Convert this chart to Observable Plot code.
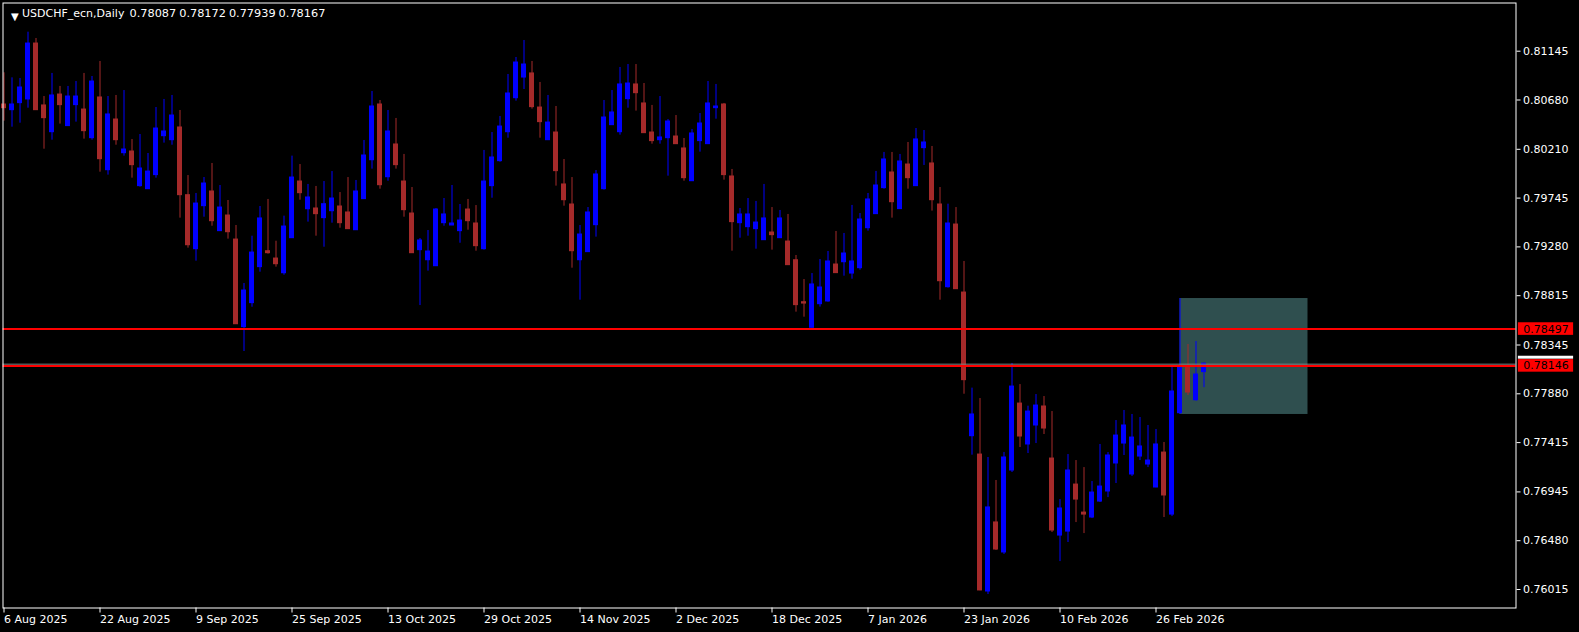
<!DOCTYPE html>
<html><head><meta charset="utf-8">
<script src="https://cdn.jsdelivr.net/npm/d3@7"></script>
<script src="https://cdn.jsdelivr.net/npm/@observablehq/plot@0.6"></script>
<style>
html,body{margin:0;padding:0;background:#000;}
#chart{width:1579px;height:632px;overflow:hidden;}
</style></head><body><div id="chart"></div>
<script>
const symbol = "USDCHF_ecn,Daily";
const open = [
.80637,.80583,.80650,.80685,.81218,.80628,.80373,.80732,.80431,.80631,
.80589,.80316,.80704,.80011,.80494,.80173,.80189,.79859,.79830,.79964,
.80335,.80297,.80418,.79773,.79258,.79668,.79808,.79430,.79579,.79350,
.78515,.78744,.79087,.79239,.79169,.79029,.79363,.79903,.79639,.79646,
.79554,.79620,.79665,.79608,.79439,.79735,.80106,.80637,.79944,.80256,
.79903,.79598,.79249,.79153,.79096,.79506,.79484,.79430,.79636,.79503,
.79258,.79859,.80097,.80373,.80697,.80894,.80933,.80608,.80297,.80370,
.79875,.79684,.79153,.79230,.79487,.79830,.80440,.80373,.80688,.80828,
.80647,.80370,.80297,.80316,.80332,.80218,.79906,.80288,.80259,.80602,
.80637,.79951,.79506,.79468,.79449,.79344,.79417,.79363,.79331,.79153,
.78753,.78509,.78734,.78760,.79112,.79134,.79026,.79077,.79458,.79592,
.79840,.79989,.79640,.80065,.79859,.80221,.80075,.79684,.78896,.79493,
.78845,.77476,.77301,.75996,.76654,.76368,.77149,.77787,.77397,.77578,
.77759,.77263,.76529,.76567,.77015,.76748,.76701,.76853,.76949,.77216,
.77406,.77111,.77282,.77206,.76987,.77320,.76729,.77695,.78140,.77819,
.78087];
const high = [
.80939,.80891,.80885,.81326,.81266,.80713,.80933,.80809,.80809,.80856,
.80933,.80904,.81047,.80713,.80723,.80770,.80303,.80351,.80170,.80608,
.80685,.80723,.80580,.79960,.79789,.79941,.80075,.79865,.79722,.79484,
.78931,.79382,.79665,.79732,.79334,.79573,.80145,.80065,.79875,.79856,
.79903,.79998,.79798,.79941,.79913,.80294,.80761,.80675,.80580,.80504,
.80161,.79846,.79360,.79436,.79646,.79741,.79865,.79684,.79732,.79674,
.80199,.80370,.80523,.80923,.81085,.81247,.81047,.80847,.80723,.80618,
.80113,.79941,.79484,.79655,.80008,.80675,.80770,.80990,.81018,.81018,
.80837,.80628,.80713,.80494,.80532,.80313,.80399,.80551,.80856,.80828,
.80647,.80018,.79646,.79741,.79713,.79875,.79655,.79627,.79589,.79198,
.78969,.79026,.79160,.79236,.79427,.79408,.79675,.79598,.79789,.79999,
.80180,.80180,.80161,.80275,.80408,.80389,.80237,.79846,.79687,.79655,
.79141,.77934,.77835,.77273,.77054,.77321,.78169,.77968,.77762,.77873,
.77854,.77711,.76872,.77301,.77244,.77177,.77044,.77397,.77320,.77625,
.77721,.77683,.77654,.77578,.77540,.77416,.78130,.78788,.78350,.78378,
.78172];
const low = [
.80478,.80421,.80459,.80602,.80580,.80211,.80297,.80450,.80428,.80469,
.80307,.80297,.79992,.79964,.80249,.80145,.79935,.79849,.79828,.79935,
.80269,.80249,.79554,.79268,.79144,.79563,.79477,.79427,.79354,.78541,
.78283,.78705,.79039,.79211,.79087,.79010,.79360,.79725,.79516,.79382,
.79277,.79506,.79458,.79446,.79437,.79732,.80021,.79830,.79906,.80021,
.79563,.79218,.78721,.79049,.79094,.79477,.79482,.79315,.79439,.79239,
.79249,.79744,.80087,.80316,.80669,.80780,.80593,.80316,.80295,.79859,
.79668,.79077,.78772,.79227,.79373,.79821,.80438,.80345,.80602,.80574,
.80362,.80259,.80259,.79954,.80257,.79906,.79904,.80183,.80257,.80497,
.79916,.79239,.79363,.79382,.79258,.79342,.79249,.79361,.79104,.78658,
.78610,.78506,.78706,.78753,.79027,.79001,.78972,.79058,.79430,.79590,
.79830,.79554,.79637,.79830,.79856,.80056,.79621,.78772,.78887,.78875,
.77876,.77295,.76003,.75967,.76387,.76349,.77130,.77368,.77311,.77406,
.77492,.76558,.76281,.76463,.76653,.76548,.76691,.76844,.76891,.77025,
.77292,.77092,.77244,.77177,.76985,.76701,.76710,.77683,.77864,.77810,
.77939];
const close = [
.80602,.80637,.80799,.81218,.80583,.80507,.80723,.80631,.80713,.80713,
.80383,.80856,.80116,.80542,.80297,.80208,.80059,.80027,.79998,.80408,
.80380,.80532,.79773,.79296,.79693,.79884,.79525,.79655,.79420,.78543,
.78864,.79226,.79551,.79220,.79115,.79474,.79941,.79792,.79751,.79592,
.79687,.79741,.79506,.79449,.79808,.80151,.80618,.79868,.80380,.80059,
.79630,.79220,.79341,.79236,.79636,.79589,.79503,.79531,.79525,.79287,
.79903,.80132,.80427,.80742,.81037,.81018,.80612,.80469,.80465,.80002,
.79725,.79239,.79398,.79608,.79970,.80513,.80561,.80828,.80837,.80745,
.80364,.80288,.80323,.80475,.80259,.79935,.80361,.80456,.80647,.80618,
.79964,.79516,.79589,.79589,.79512,.79551,.79392,.79551,.79106,.78725,
.78740,.78922,.78893,.79141,.79030,.79217,.79141,.79541,.79732,.79865,
.80113,.79706,.80094,.79935,.80304,.80275,.79725,.78953,.79503,.78877,
.78010,.77683,.76006,.76797,.76396,.77273,.77949,.77473,.77711,.77768,
.77549,.76577,.76787,.77149,.76872,.76729,.76939,.76996,.77292,.77482,
.77578,.77463,.77378,.77244,.77397,.76911,.77902,.78140,.77892,.78064,
.78167];
const dateTickBars = [0,12,24,36,48,60,72,84,96,108,120,132,144];
const dateTickLabels = ["6 Aug 2025","22 Aug 2025","9 Sep 2025","25 Sep 2025","13 Oct 2025","29 Oct 2025","14 Nov 2025","2 Dec 2025","18 Dec 2025","7 Jan 2026","23 Jan 2026","10 Feb 2026","26 Feb 2026"];
const priceTicks = [0.81145,0.80680,0.80210,0.79745,0.79280,0.78815,0.78345,0.77880,0.77415,0.76945,0.76480,0.76015];
const levels = [0.78497, 0.78146];
const bid = 0.78167;
const zoneBars = [147, 163];
const zonePrices = [0.77683, 0.78788];

const fmt = d3.format(".5f");
const candles = open.map((o, i) => ({i, o, h: high[i], l: low[i], c: close[i]}));
const bulls = candles.filter(d => d.c >= d.o);
const bears = candles.filter(d => d.c < d.o);
const bullColor = "#0000FF", bearColor = "#A52A2A";
const hw = 0.3125;
const last = candles[candles.length - 1];
const ohlc = [last.o, last.h, last.l, last.c].map((v, k) => ({v, k}));
const labelOf = new Map(dateTickBars.map((b, k) => [b, dateTickLabels[k]]));
const lx1 = 189.3, lx2 = 196.2, ltx = 189.9;
const pxToBar = px => (px - 3.5) / 8;

const bodyMark = (data, fill) => Plot.rect(data, {
  x1: d => d.i - hw, x2: d => d.i + hw,
  y1: d => Math.min(d.o, d.c), y2: d => Math.max(d.o, d.c),
  fill, insetTop: -0.5, insetBottom: -0.5
});
const wickMark = (data, stroke) => Plot.ruleX(data, {x: "i", y1: "l", y2: "h", stroke, strokeWidth: 1});

const chart = Plot.plot({
  width: 1579, height: 632,
  marginLeft: 2.5, marginTop: 2.5, marginRight: 63.5, marginBottom: 24.5,
  style: {background: "#000", color: "#fff", fontFamily: "DejaVu Sans", fontSize: "11px"},
  x: {type: "linear", domain: [-0.125, 189]},
  y: {domain: [0.758387, 0.816043]},
  marks: [
    Plot.rect([0], {x1: zoneBars[0], x2: zoneBars[1], y1: zonePrices[0], y2: zonePrices[1], fill: "#2F4F4F"}),
    wickMark(bulls, bullColor), wickMark(bears, bearColor),
    bodyMark(bulls, bullColor), bodyMark(bears, bearColor),
    Plot.ruleY([bid], {stroke: "#808080", strokeWidth: 1, dy: 0.5}),
    Plot.ruleY(levels, {stroke: "#FF0000", strokeWidth: 2}),
    Plot.frame({stroke: "#fff"}),
    Plot.axisY({ticks: priceTicks, anchor: "right", tickSize: 4, tickPadding: 3, tickFormat: fmt, label: null}),
    Plot.axisX({ticks: dateTickBars, anchor: "bottom", tickSize: 5, tickPadding: 2, textAnchor: "start", tickFormat: d => labelOf.get(d), label: null}),
    Plot.rect([bid], {x1: lx1, x2: lx2, y1: d => d + 0.00043, y2: d => d + 0.00071, fill: "#fff"}),
    Plot.rect(levels, {x1: lx1, x2: lx2, y1: d => d - 0.0006, y2: d => d + 0.0006, fill: "#FF0000"}),
    Plot.text(levels, {x: ltx, y: d => d, text: d => fmt(d), textAnchor: "start", fill: "#000", fontSize: 11}),
    Plot.text(["▼"], {frameAnchor: "top-left", dx: 8, dy: 10, fontSize: 10, fill: "#fff", text: d => d}),
    Plot.text([symbol], {frameAnchor: "top-left", dx: 19, dy: 10, textAnchor: "start", lineAnchor: "middle", fill: "#fff", fontSize: 11, text: d => d}),
    Plot.text(ohlc, {x: d => pxToBar(129 + 49.7 * d.k), frameAnchor: "top", dy: 10, textAnchor: "start", lineAnchor: "middle", fill: "#fff", fontSize: 11.3, text: d => fmt(d.v)})
  ]
});
document.getElementById("chart").append(chart);
</script></body></html>
